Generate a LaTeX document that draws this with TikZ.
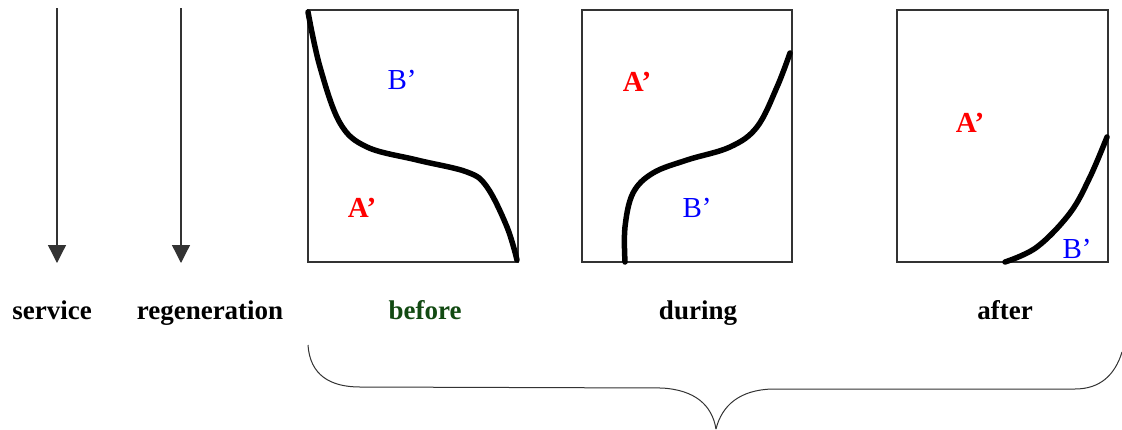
\documentclass[tikz,border=0pt]{standalone}
\usepackage{fontspec}
\setmainfont{Liberation Serif}
\usepackage{tikz}
\usetikzlibrary{arrows.meta,positioning}
\definecolor{fgreen}{HTML}{124A12}
\definecolor{fred}{HTML}{FF0000}
\definecolor{fblue}{HTML}{0000FF}
\definecolor{fline}{HTML}{333333}
\tikzset{
  panel/.style={draw=fline, line width=1.1pt, minimum width=210pt, minimum height=252pt,
                inner sep=0pt},
  front/.style={line width=5.5pt, line cap=round, line join=round},
  flow/.style={-{Triangle[length=18pt, width=18pt]}, draw=fline, line width=1.3pt},
  stage/.style={font=\fontsize{27}{30}\selectfont\bfseries, anchor=base, inner sep=0pt},
  phaseA/.style={font=\fontsize{29}{32}\selectfont\bfseries, text=fred, inner sep=0pt},
  phaseB/.style={font=\fontsize{29}{32}\selectfont, text=fblue, inner sep=0pt},
  brace/.style={draw=fline, line width=1pt},
}

\begin{document}
\begin{tikzpicture}[x=1pt, y=-1pt]
  \useasboundingbox (0,0) rectangle (1122,429);
  % vertical flows
  \coordinate (svctop) at (57,8);
  \coordinate (svcend) at (57,263);
  \coordinate (regtop) at (181,8);
  \coordinate (regend) at (181,263);
  \draw[flow] (svctop) -- (svcend);
  \draw[flow] (regtop) -- (regend);

  % panels
  \node[panel] (before) at (413,136) {};
  \node[panel] (during) at (687,136) {};
  \node[panel, minimum width=211pt] (after) at (1002.5,136) {};

  % fronts
  \draw[front] plot[smooth, tension=0.6] coordinates {(308,12) (320,67) (340,123) (367,147)
    (417,160) (467,172) (487,187) (507,227) (517,260)};
  \draw[front] plot[smooth, tension=0.6] coordinates {(625,262) (625,227) (633,193) (653,173)
    (687,160) (730,147) (757,127) (777,87) (790,53)};
  \draw[front] plot[smooth, tension=0.6] coordinates {(1005,262) (1037,247) (1070,213)
    (1090,177) (1107,137)};

  \node[phaseB] (b1) at (402,80) {B’};
  \node[phaseA] (a1) at (362,208) {A’};
  \node[phaseA] (a2) at (637,82) {A’};
  \node[phaseB] (b2) at (697,208) {B’};
  \node[phaseA] (a3) at (970,123) {A’};
  \node[phaseB] (b3) at (1077,249) {B’};

  % captions
  \node[stage] (service) at (52,319) {service};
  \node[stage] (regen) at (210,319) {regeneration};
  \node[stage, text=fgreen] (tbefore) at (425,319) {before};
  \node[stage] (tduring) at (698,319) {during};
  \node[stage] (tafter) at (1005,319) {after};

  % brace under the three panels
  \draw[brace] (308,345) .. controls (310,375) and (330,387) .. (360,387)
    -- (662,388) .. controls (695,390) and (712,405) .. (716,429);
  \draw[brace] (716,429) .. controls (722,405) and (740,390) .. (772,389)
    -- (1075,389) .. controls (1100,389) and (1115,375) .. (1122,352);
\end{tikzpicture}
\end{document}
